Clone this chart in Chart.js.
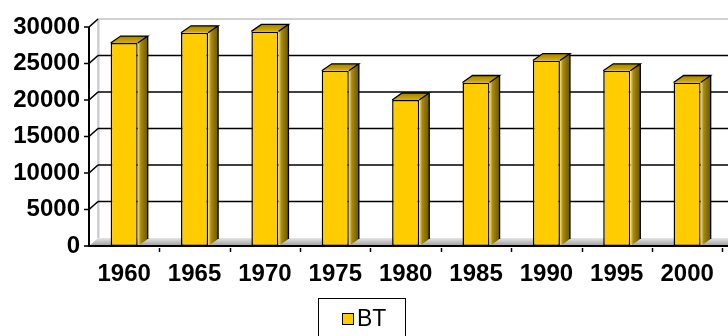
<!DOCTYPE html>
<html>
<head>
<meta charset="utf-8">
<script src="https://cdn.jsdelivr.net/npm/chart.js@4/dist/chart.umd.min.js"></script>
<style>
  html, body { margin: 0; padding: 0; background: #fff; }
  #wrap { width: 728px; height: 336px; }
</style>
</head>
<body>
<div id="wrap"><canvas id="chart"></canvas></div>
<script>
// data
const years = ['1960', '1965', '1970', '1975', '1980', '1985', '1990', '1995', '2000'];
const btValues = [27800, 29200, 29400, 24000, 20000, 22400, 25400, 24000, 22400];
const yTicks = [0, 5000, 10000, 15000, 20000, 25000, 30000];
const seriesName = 'BT';

const FONT = "'Liberation Sans', Arial, sans-serif";
const GOLD = '#FFCC00';
// depth of the fake 3D: wall offset and bar offset
const WALL_DX = 9, WALL_DY = -8;
const BAR_DX = 10, BAR_DY = -7;

// back wall, floor, gridlines and axis lines
const wallPlugin = {
    id: 'wall3d',
    beforeDatasetsDraw(chart) {
        const { ctx, chartArea, scales } = chart;
        const y = scales.y;
        const left = chartArea.left, right = chart.width;
        const base = y.getPixelForValue(0);
        const top = y.getPixelForValue(yTicks[yTicks.length - 1]);
        ctx.save();

        // floor
        const g = ctx.createLinearGradient(0, base + WALL_DY, 0, base);
        g.addColorStop(0, '#e6e6e6');
        g.addColorStop(1, '#9c9c9c');
        ctx.fillStyle = g;
        ctx.beginPath();
        ctx.moveTo(left, base);
        ctx.lineTo(right, base);
        ctx.lineTo(right, base + WALL_DY);
        ctx.lineTo(left + WALL_DX, base + WALL_DY);
        ctx.closePath();
        ctx.fill();

        // side wall shading + back wall border
        ctx.fillStyle = '#e4e4e4';
        ctx.fillRect(left + WALL_DX, top + WALL_DY, 2, base - top);
        ctx.strokeStyle = '#c4c4c4';
        ctx.lineWidth = 1.5;
        ctx.beginPath();
        ctx.moveTo(left + WALL_DX, base + WALL_DY);
        ctx.lineTo(left + WALL_DX, top + WALL_DY);
        ctx.lineTo(right, top + WALL_DY);
        ctx.stroke();

        // gridlines on the back wall
        ctx.strokeStyle = '#000';
        ctx.lineWidth = 1.6;
        yTicks.forEach(v => {
            if (v === 0 || v === yTicks[yTicks.length - 1]) return;
            const py = y.getPixelForValue(v);
            ctx.beginPath();
            ctx.moveTo(left + WALL_DX, py + WALL_DY);
            ctx.lineTo(right, py + WALL_DY);
            ctx.stroke();
        });

        // tick marks and slants into the side wall
        yTicks.forEach(v => {
            const py = y.getPixelForValue(v);
            ctx.strokeStyle = '#000';
            ctx.lineWidth = 1.6;
            ctx.beginPath();
            ctx.moveTo(left - 5, py);
            ctx.lineTo(left, py);
            if (v !== 0) ctx.lineTo(left + WALL_DX, py + WALL_DY);
            ctx.stroke();
        });
        ctx.restore();
    },
    afterDatasetsDraw(chart) {
        const { ctx, chartArea, scales } = chart;
        const y = scales.y, x = scales.x;
        const left = chartArea.left, right = chart.width;
        const base = y.getPixelForValue(0);
        const top = y.getPixelForValue(yTicks[yTicks.length - 1]);
        ctx.save();

        // 3D side and top faces of every bar
        chart.getDatasetMeta(0).data.forEach(bar => {
            const p = bar.getProps(['x', 'y', 'width', 'base'], true);
            const x0 = p.x - p.width / 2, x1 = p.x + p.width / 2;
            const t = p.y, b = p.base;

            const sg = ctx.createLinearGradient(x1, 0, x1 + BAR_DX, 0);
            sg.addColorStop(0, '#f6e08a');
            sg.addColorStop(0.3, '#a88a0c');
            sg.addColorStop(1, '#6a5600');
            ctx.fillStyle = sg;
            ctx.beginPath();
            ctx.moveTo(x1, t);
            ctx.lineTo(x1 + BAR_DX, t + BAR_DY);
            ctx.lineTo(x1 + BAR_DX, b + BAR_DY);
            ctx.lineTo(x1, b);
            ctx.closePath();
            ctx.fill();

            const tg = ctx.createLinearGradient(0, t, 0, t + BAR_DY);
            tg.addColorStop(0, '#d8b000');
            tg.addColorStop(1, '#a08200');
            ctx.fillStyle = tg;
            ctx.beginPath();
            ctx.moveTo(x0, t);
            ctx.lineTo(x1, t);
            ctx.lineTo(x1 + BAR_DX, t + BAR_DY);
            ctx.lineTo(x0 + BAR_DX, t + BAR_DY);
            ctx.closePath();
            ctx.fill();

            ctx.strokeStyle = '#000';
            ctx.lineWidth = 1.3;
            ctx.beginPath();
            ctx.moveTo(x0, t);
            ctx.lineTo(x0 + BAR_DX, t + BAR_DY);
            ctx.lineTo(x1 + BAR_DX, t + BAR_DY);
            ctx.lineTo(x1, t);
            ctx.moveTo(x1 + BAR_DX, t + BAR_DY);
            ctx.lineTo(x1 + BAR_DX, b + BAR_DY);
            ctx.stroke();
        });

        // front axis lines
        ctx.strokeStyle = '#000';
        ctx.lineWidth = 2;
        ctx.beginPath();
        ctx.moveTo(left, top);
        ctx.lineTo(left, base + 1);
        ctx.moveTo(left - 1, base);
        ctx.lineTo(right, base);
        ctx.stroke();

        // category boundary ticks under the x axis
        ctx.lineWidth = 1.5;
        const step = x.getPixelForValue(1) - x.getPixelForValue(0);
        for (let i = 1; i <= years.length; i++) {
            const px = Math.round(x.getPixelForValue(i - 1) + step / 2) + 0.5;
            ctx.beginPath();
            ctx.moveTo(px, base + 2);
            ctx.lineTo(px, base + 6);
            ctx.stroke();
        }

        // legend box
        const lx = 318, ly = 298;
        ctx.lineWidth = 1;
        ctx.strokeRect(lx + 0.5, ly + 0.5, 87, 60);
        ctx.fillStyle = GOLD;
        ctx.fillRect(lx + 24, ly + 15, 12, 12);
        ctx.strokeRect(lx + 24.5, ly + 15.5, 11, 11);
        ctx.fillStyle = '#000';
        ctx.font = '23px ' + FONT;
        ctx.textBaseline = 'middle';
        ctx.fillText(chart.data.datasets[0].label, lx + 39, ly + 22);
        ctx.restore();
    }
};

new Chart(document.getElementById('chart'), {
    type: 'bar',
    data: {
        labels: years,
        datasets: [{
            label: seriesName,
            data: btValues,
            backgroundColor: GOLD,
            borderColor: '#000',
            borderWidth: 1.5,
            borderSkipped: false,
            categoryPercentage: 1,
            barPercentage: 0.385
        }]
    },
    options: {
        responsive: true,
        maintainAspectRatio: false,
        animation: false,
        layout: { padding: { top: 27, right: 3, bottom: 0, left: 0 } },
        plugins: {
            legend: { display: false },
            tooltip: { enabled: false }
        },
        scales: {
            x: {
                grid: { display: false, drawTicks: false },
                border: { display: false },
                ticks: {
                    color: '#000',
                    padding: 14,
                    maxRotation: 0,
                    font: { family: FONT, size: 24, weight: 'bold' }
                },
                afterFit(scale) { scale.height = 90; }
            },
            y: {
                min: 0,
                max: 30000,
                grid: { display: false, drawTicks: false },
                border: { display: false },
                afterBuildTicks(scale) { scale.ticks = yTicks.map(v => ({ value: v })); },
                ticks: {
                    color: '#000',
                    padding: 9,
                    callback: v => String(v),
                    font: { family: FONT, size: 24, weight: 'bold' }
                },
                afterFit(scale) { scale.width = 89; }
            }
        }
    },
    plugins: [wallPlugin]
});
</script>
</body>
</html>
